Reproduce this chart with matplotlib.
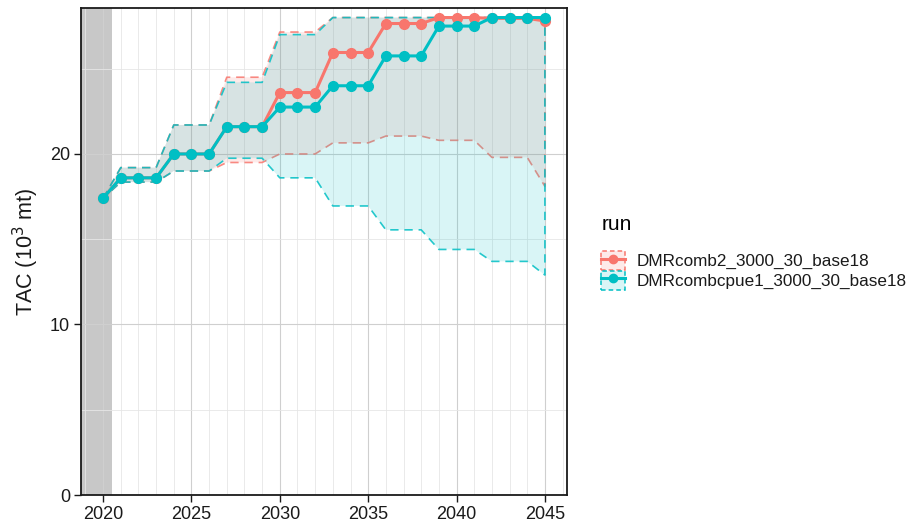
import matplotlib
matplotlib.use("Agg")
import matplotlib.pyplot as plt
from matplotlib.patches import Patch, Rectangle
from matplotlib.lines import Line2D
from matplotlib.ticker import MultipleLocator
import numpy as np

plt.rcParams["font.family"] = ["Liberation Sans", "DejaVu Sans"]

years = list(range(2020, 2046))

# DMRcomb2_3000_30_base18
comb2_median = [17.4, 18.6, 18.6, 18.6, 20.0, 20.0, 20.0, 21.6, 21.6, 21.6,
                23.6, 23.6, 23.6, 25.95, 25.95, 25.95, 27.65, 27.65, 27.65,
                28.0, 28.0, 28.0, 27.95, 27.95, 27.95, 27.8]
comb2_lower = [17.4, 18.35, 18.35, 18.35, 19.0, 19.0, 19.0, 19.5, 19.5, 19.5,
               20.0, 20.0, 20.0, 20.65, 20.65, 20.65, 21.05, 21.05, 21.05,
               20.8, 20.8, 20.8, 19.8, 19.8, 19.8, 18.1]
comb2_upper = [17.4, 19.2, 19.2, 19.2, 21.7, 21.7, 21.7, 24.5, 24.5, 24.5,
               27.15, 27.15, 27.15, 28.0, 28.0, 28.0, 28.0, 28.0, 28.0,
               28.0, 28.0, 28.0, 28.0, 28.0, 28.0, 28.0]

# DMRcombcpue1_3000_30_base18
cpue1_median = [17.4, 18.6, 18.6, 18.6, 20.0, 20.0, 20.0, 21.6, 21.6, 21.6,
                22.75, 22.75, 22.75, 24.0, 24.0, 24.0, 25.75, 25.75, 25.75,
                27.5, 27.5, 27.5, 28.0, 28.0, 28.0, 28.0]
cpue1_lower = [17.4, 18.35, 18.35, 18.35, 19.0, 19.0, 19.0, 19.75, 19.75, 19.75,
               18.6, 18.6, 18.6, 16.95, 16.95, 16.95, 15.55, 15.55, 15.55,
               14.4, 14.4, 14.4, 13.7, 13.7, 13.7, 12.9]
cpue1_upper = [17.4, 19.2, 19.2, 19.2, 21.7, 21.7, 21.7, 24.2, 24.2, 24.2,
               27.0, 27.0, 27.0, 28.0, 28.0, 28.0, 28.0, 28.0, 28.0,
               28.0, 28.0, 28.0, 28.0, 28.0, 28.0, 28.0]

run_names = ["DMRcomb2_3000_30_base18", "DMRcombcpue1_3000_30_base18"]
run_colors = ["#F8766D", "#00BFC4"]
history_end = 2020.5

series = [
    (comb2_median, comb2_lower, comb2_upper),
    (cpue1_median, cpue1_lower, cpue1_upper),
]

fig = plt.figure(figsize=(9.18, 5.24), dpi=100)
ax = fig.add_axes([81 / 918, 1 - 495 / 524, (567 - 81) / 918, (495 - 8) / 524])

x = np.array(years, dtype=float)
xmin, xmax = 2020 - 1.25, 2045 + 1.25
ax.set_xlim(xmin, xmax)
ax.set_ylim(0, 28.56)

# historical period shading
ax.add_patch(Rectangle((xmin, 0), history_end - xmin, 28.56,
                       facecolor="#c8c8c8", edgecolor="none", zorder=0.2))

# grid
ax.set_axisbelow(True)
ax.xaxis.set_major_locator(MultipleLocator(5))
ax.xaxis.set_minor_locator(MultipleLocator(1))
ax.yaxis.set_major_locator(MultipleLocator(10))
ax.yaxis.set_minor_locator(MultipleLocator(5))
ax.grid(which="major", color="#cfcfcf", linewidth=0.8)
ax.grid(which="minor", color="#e6e6e6", linewidth=0.6)

dash = (0, (5, 3.5))

# ribbons with dashed outlines
for i, ((med, lo, hi), col) in enumerate(zip(series, run_colors)):
    lo = np.array(lo)
    hi = np.array(hi)
    ax.fill_between(x, lo, hi, facecolor=col, alpha=0.15, edgecolor="none",
                    zorder=1 + i)
    px = np.concatenate([x, x[::-1], x[:1]])
    py = np.concatenate([hi, lo[::-1], hi[:1]])
    ax.plot(px, py, color=col, linestyle=dash, linewidth=1.2,
            alpha=0.85, zorder=1.05 + i)

# median trajectories
for i, ((med, lo, hi), col) in enumerate(zip(series, run_colors)):
    ax.plot(x, med, color=col, linewidth=2.2, marker="o", markersize=7,
            zorder=4 + i)

ax.set_xticks([2020, 2025, 2030, 2035, 2040, 2045])
ax.set_yticks([0, 10, 20])
ax.tick_params(axis="both", which="major", labelsize=13, colors="#1a1a1a",
               length=5, width=1.0, labelcolor="#1a1a1a")
ax.tick_params(axis="both", which="minor", length=0)
ax.tick_params(axis="y", pad=3)
ax.tick_params(axis="x", pad=3)

for s in ax.spines.values():
    s.set_color("#1a1a1a")
    s.set_linewidth(1.3)
    s.set_zorder(10)

ax.set_ylabel("TAC (10$^3$ mt)", fontsize=15.5, color="#1a1a1a", labelpad=6)

# legend
handles = []
for col in run_colors:
    box = Patch(facecolor=matplotlib.colors.to_rgba(col, 0.15),
                edgecolor=col, linestyle=(0, (3, 2)), linewidth=1.1)
    line = Line2D([0], [0], color=col, linewidth=2.2, marker="o",
                  markersize=6)
    handles.append((box, line))

leg = fig.legend(handles, run_names, title="run", loc="upper left",
                 bbox_to_anchor=(598 / 918, 1 - 212 / 524), frameon=False,
                 fontsize=12.3, title_fontsize=15, alignment="left",
                 handlelength=1.37, handleheight=1.33, handletextpad=0.7,
                 labelspacing=0.05, borderaxespad=0, borderpad=0.2)
leg._legend_box.sep = 12
for t in leg.get_texts():
    t.set_color("#1a1a1a")

fig.savefig("out.png", dpi=100)
